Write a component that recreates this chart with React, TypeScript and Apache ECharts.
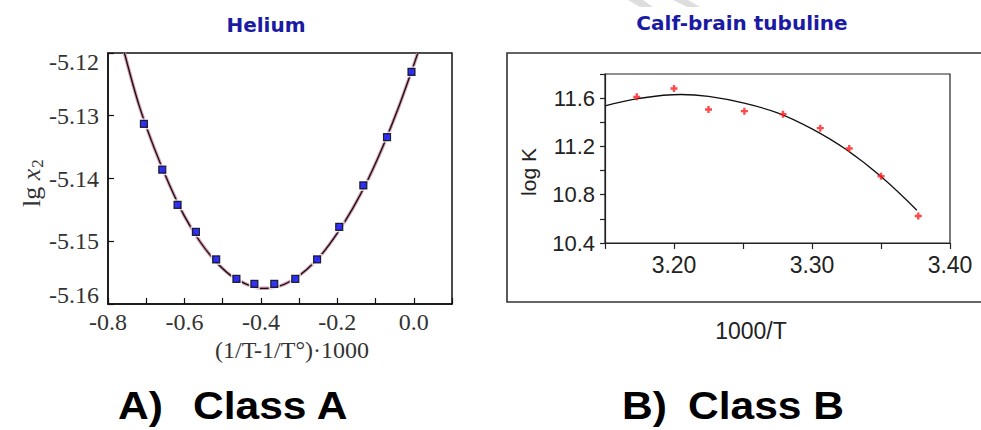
import React, { useEffect, useRef } from 'react';
import * as echarts from 'echarts';

// Helium (Class A): measured points
const heliumX = [-0.706, -0.658, -0.618, -0.570, -0.517, -0.464, -0.417, -0.365, -0.310, -0.253, -0.195, -0.132, -0.070, -0.006];
const heliumY = [-5.1313, -5.1386, -5.1442, -5.1485, -5.1529, -5.1560, -5.1568, -5.1568, -5.1560, -5.1529, -5.1477, -5.1411, -5.1334, -5.1230];
// Helium fitted curve
const heliumFitX = [-0.757, -0.72, -0.68, -0.64, -0.60, -0.56, -0.52, -0.48, -0.44, -0.40, -0.36, -0.32, -0.28, -0.24, -0.20, -0.16, -0.12, -0.08, -0.04, 0.00, 0.010];
const heliumFitY = [-5.1200, -5.1281, -5.1350, -5.1409, -5.1460, -5.1500, -5.1531, -5.1554, -5.1568, -5.1575, -5.1573, -5.1563, -5.1545, -5.1520, -5.1487, -5.1448, -5.1402, -5.1348, -5.1287, -5.1219, -5.1201];

// Calf-brain tubuline (Class B): measured points
const tubX = [3.173, 3.200, 3.225, 3.251, 3.279, 3.306, 3.327, 3.350, 3.377];
const tubY = [11.611, 11.680, 11.506, 11.492, 11.467, 11.351, 11.183, 10.953, 10.624];
// fitted curve
const tubFitX = [3.150, 3.175, 3.205, 3.225, 3.250, 3.275, 3.300, 3.325, 3.350, 3.376];
const tubFitY = [11.536, 11.598, 11.630, 11.614, 11.560, 11.478, 11.345, 11.172, 10.950, 10.671];

const titleA = 'Helium';
const titleB = 'Calf-brain tubuline';
const xNameA = '(1/T-1/T°)·1000';
const xNameB = '1000/T';
const yNameB = 'log K';

const zip = (xs: number[], ys: number[]) => xs.map((x, i) => [x, ys[i]]);

const PLUS = 'path://M2,0H4V2H6V4H4V6H2V4H0V2H2Z';

export default function App() {
  const ref = useRef<HTMLDivElement>(null);
  useEffect(() => {
    if (!ref.current) return;
    const chart = echarts.init(ref.current, undefined, { renderer: 'svg' });
    const serif = 'Liberation Serif';
    const sans = 'Liberation Sans';
    chart.setOption({
      animation: false,
      backgroundColor: '#ffffff',
      grid: [
        { left: 108, top: 53, width: 344, height: 251, show: true, borderColor: '#111', borderWidth: 1.5, backgroundColor: 'transparent' },
        { left: 605, top: 74, width: 345, height: 169, show: true, borderColor: '#222', borderWidth: 1.2, backgroundColor: 'transparent' },
      ],
      xAxis: [
        {
          type: 'value', gridIndex: 0, min: -0.8, max: 0.1, interval: 0.1,
          axisLine: { show: true, onZero: false, lineStyle: { color: '#111', width: 1.5 } },
          axisTick: { show: true, inside: true, length: 6, lineStyle: { color: '#111', width: 1.2 } },
          splitLine: { show: false },
          axisLabel: {
            margin: 6, fontSize: 24, fontFamily: serif, color: '#333',
            formatter: (v: number) => {
              const k = Math.round(v * 10);
              if (k % 2 !== 0) return '';
              if (k === 0) return '0.0';
              return (k / 10).toFixed(1);
            },
          },
        },
        {
          type: 'value', gridIndex: 1, min: 3.15, max: 3.40, interval: 0.05,
          axisLine: { show: true, onZero: false, lineStyle: { color: '#222', width: 1.2 } },
          axisTick: { show: true, inside: false, length: 6, lineStyle: { color: '#222', width: 1.2 } },
          splitLine: { show: false },
          axisLabel: {
            margin: 10, fontSize: 23, fontFamily: sans, color: '#222',
            formatter: (v: number) => {
              const k = Math.round(v * 100);
              return k % 10 === 0 ? (k / 100).toFixed(2) : '';
            },
          },
        },
      ],
      yAxis: [
        {
          type: 'value', gridIndex: 0, min: -5.16, max: -5.12, interval: 0.01,
          axisLine: { show: true, onZero: false, lineStyle: { color: '#111', width: 1.5 } },
          axisTick: { show: true, inside: true, length: 6, lineStyle: { color: '#111', width: 1.2 } },
          splitLine: { show: false },
          axisLabel: {
            margin: 9, fontSize: 24, fontFamily: serif, color: '#333',
            formatter: (v: number) => {
              const s = v.toFixed(2);
              if (s === '-5.12') return '{hi|' + s + '}';
              if (s === '-5.16') return '{lo|' + s + '}';
              return '{n|' + s + '}';
            },
            rich: {
              n: { fontSize: 24, fontFamily: serif, color: '#333' },
              hi: { fontSize: 24, fontFamily: serif, color: '#333', padding: [18, 0, 0, 0] },
              lo: { fontSize: 24, fontFamily: serif, color: '#333', padding: [0, 0, 18, 0] },
            },
          },
        },
        {
          type: 'value', gridIndex: 1, min: 10.4, max: 11.8, interval: 0.2,
          axisLine: { show: true, onZero: false, lineStyle: { color: '#222', width: 1.2 } },
          axisTick: { show: true, inside: false, length: 5, lineStyle: { color: '#222', width: 1.2 } },
          splitLine: { show: false },
          axisLabel: {
            margin: 10, fontSize: 22, fontFamily: sans, color: '#222',
            formatter: (v: number) => {
              const k = Math.round(v * 10);
              return k % 4 === 0 ? (k / 10).toFixed(1) : '';
            },
          },
        },
      ],
      series: [
        {
          type: 'line', xAxisIndex: 0, yAxisIndex: 0, data: zip(heliumFitX, heliumFitY),
          smooth: 0.3, showSymbol: false, lineStyle: { color: '#d89ab2', width: 3.4 }, z: 2, silent: true,
        },
        {
          type: 'line', xAxisIndex: 0, yAxisIndex: 0, data: zip(heliumFitX, heliumFitY),
          smooth: 0.3, showSymbol: false, lineStyle: { color: '#111', width: 1.3 }, z: 3, silent: true,
        },
        {
          type: 'scatter', xAxisIndex: 0, yAxisIndex: 0, data: zip(heliumX, heliumY),
          symbol: 'rect', symbolSize: 11, itemStyle: { color: '#ffffff' }, z: 4, silent: true,
        },
        {
          type: 'scatter', xAxisIndex: 0, yAxisIndex: 0, data: zip(heliumX, heliumY),
          symbol: 'rect', symbolSize: 7, itemStyle: { color: '#0000ee', borderColor: '#000', borderWidth: 1.2 }, z: 5,
        },
        {
          type: 'line', xAxisIndex: 1, yAxisIndex: 1, data: zip(tubFitX, tubFitY),
          smooth: 0.4, showSymbol: false, lineStyle: { color: '#111', width: 1.3 }, z: 3, silent: true,
        },
        {
          type: 'scatter', xAxisIndex: 1, yAxisIndex: 1, data: zip(tubX, tubY),
          symbol: PLUS, symbolSize: 7, itemStyle: { color: '#ff1a1a' }, z: 5,
        },
      ],
      graphic: [
        { type: 'polygon', shape: { points: [[628, 0], [643, 0], [653, 7], [640, 7]] }, style: { fill: '#dedede' }, z: 0 },
        { type: 'polygon', shape: { points: [[673, 0], [688, 0], [700, 7], [687, 7]] }, style: { fill: '#dedede' }, z: 0 },
        {
          type: 'rect', shape: { x: 507, y: 53, width: 500, height: 249 },
          style: { fill: 'none', stroke: '#333', lineWidth: 1.6 }, z: 1,
        },
        {
          type: 'text', x: 266, y: 25,
          style: { text: titleA, fontSize: 20, fontWeight: 'bold', fontFamily: 'DejaVu Sans', fill: '#1a1aa4', align: 'center', verticalAlign: 'middle' },
        },
        {
          type: 'text', x: 742, y: 23,
          style: { text: titleB, fontSize: 20, fontWeight: 'bold', fontFamily: 'DejaVu Sans', fill: '#1a1aa4', align: 'center', verticalAlign: 'middle' },
        },
        {
          type: 'text', x: 31, y: 183, rotation: Math.PI / 2,
          style: {
            text: '{a|lg }{b|x}{c|2}',
            align: 'center', verticalAlign: 'middle', fill: '#333',
            rich: {
              a: { fontSize: 26, fontFamily: serif, fill: '#333' },
              b: { fontSize: 26, fontFamily: serif, fontStyle: 'italic', fill: '#333' },
              c: { fontSize: 17, fontFamily: serif, fill: '#333', padding: [12, 0, 0, 1] },
            },
          },
        },
        {
          type: 'text', x: 292, y: 350,
          style: { text: xNameA, fontSize: 24, fontFamily: serif, fill: '#333', align: 'center', verticalAlign: 'middle' },
        },
        {
          type: 'text', x: 528, y: 172, rotation: Math.PI / 2,
          style: { text: yNameB, fontSize: 21, fontFamily: sans, fill: '#222', align: 'center', verticalAlign: 'middle' },
        },
        {
          type: 'text', x: 751, y: 331,
          style: { text: xNameB, fontSize: 23, fontFamily: sans, fill: '#222', align: 'center', verticalAlign: 'middle' },
        },
        {
          type: 'text', x: 118, y: 406, scaleX: 1.12,
          style: { text: 'A)', fontSize: 38, fontWeight: 'bold', fontFamily: sans, fill: '#000', align: 'left', verticalAlign: 'middle' },
        },
        {
          type: 'text', x: 193, y: 406, scaleX: 1.12,
          style: { text: 'Class A', fontSize: 38, fontWeight: 'bold', fontFamily: sans, fill: '#000', align: 'left', verticalAlign: 'middle' },
        },
        {
          type: 'text', x: 622, y: 406, scaleX: 1.12,
          style: { text: 'B)', fontSize: 38, fontWeight: 'bold', fontFamily: sans, fill: '#000', align: 'left', verticalAlign: 'middle' },
        },
        {
          type: 'text', x: 688, y: 406, scaleX: 1.12,
          style: { text: 'Class B', fontSize: 38, fontWeight: 'bold', fontFamily: sans, fill: '#000', align: 'left', verticalAlign: 'middle' },
        },
      ],
    });
    return () => chart.dispose();
  }, []);
  return (
    <div
      ref={ref}
      style={{ position: 'fixed', left: 0, top: 0, width: 981, height: 430, background: '#fff' }}
    />
  );
}
